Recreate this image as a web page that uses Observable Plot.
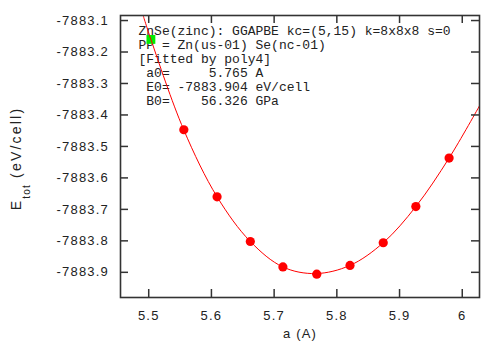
<!DOCTYPE html>
<html>
<head>
<meta charset="utf-8">
<script src="https://cdn.jsdelivr.net/npm/d3@7"></script>
<script src="https://cdn.jsdelivr.net/npm/@observablehq/plot@0.6"></script>
<style>
  html, body { margin: 0; padding: 0; background: #fff; }
  svg text { white-space: pre; }
  g[aria-label="x-axis tick label"], g[aria-label="y-axis tick label"], g.xlab { letter-spacing: 1.2px; }
  g.ylab { letter-spacing: 2.2px; }
</style>
</head>
<body>
<div id="chart"></div>
<script>
// measured data points (lattice constant a in Å, total energy in eV/cell)
const aVals = [5.556, 5.609, 5.662, 5.714, 5.768, 5.821, 5.874, 5.926, 5.979];
const eVals = [-7883.447, -7883.660, -7883.802, -7883.883, -7883.906, -7883.878, -7883.806, -7883.691, -7883.537];
// highlighted (first) point
const greenA = [5.5035];
const greenE = [-7883.160];
// fitted poly4 curve
const fitA = [5.4911, 5.5035, 5.5558, 5.609, 5.662, 5.714, 5.766, 5.821, 5.874, 5.926, 5.979, 6.0275];
const fitE = [-7883.084, -7883.160, -7883.447, -7883.660, -7883.802, -7883.883, -7883.904, -7883.878, -7883.806, -7883.691, -7883.537, -7883.371];
// tick labels
const xTicks = [5.5, 5.6, 5.7, 5.8, 5.9, 6.0];
const yTicks = [-7883.9, -7883.8, -7883.7, -7883.6, -7883.5, -7883.4, -7883.3, -7883.2, -7883.1];
// annotation
const infoLines = [
  "ZnSe(zinc): GGAPBE kc=(5,15) k=8x8x8 s=0",
  "PP = Zn(us-01) Se(nc-01)",
  "[Fitted by poly4]",
  " a0=     5.765 A",
  " E0= -7883.904 eV/cell",
  " B0=    56.326 GPa"
];
const xLabel = "a (A)";
const yLabel = "Etot (eV/cell)";

const W = 500, H = 355;
const mL = 120, mR = 21, mT = 15, mB = 58;
const pw = W - mL - mR, ph = H - mT - mB;

const pts = aVals.map((a, i) => ({a, e: eVals[i]}));
const green = greenA.map((a, i) => ({a, e: greenE[i]}));
const fit = fitA.map((a, i) => ({a, e: fitE[i]}));
const ink = "#333";

const chart = Plot.plot({
  width: W, height: H,
  marginLeft: mL, marginRight: mR, marginTop: mT, marginBottom: mB,
  style: {fontFamily: "'Liberation Sans', Arial, sans-serif", fontSize: "13px", color: "#222", background: "#fff"},
  x: {domain: [5.455, 6.0275]},
  y: {domain: [-7883.98, -7883.084]},
  marks: [
    Plot.text([infoLines.join("\n")], {
      frameAnchor: "top-left", dx: 18, dy: 10, lineAnchor: "top", textAnchor: "start",
      lineHeight: 14 / 13, fontFamily: "'Liberation Mono', 'Courier New', monospace",
      fontSize: 13, fill: "#222"
    }),
    Plot.dot(green, {x: "a", y: "e", symbol: "square", r: 5, fill: "#00ee00", stroke: "none"}),
    Plot.line(fit, {x: "a", y: "e", curve: "catmull-rom", stroke: "#ff0000", strokeWidth: 1, clip: true}),
    Plot.dot(pts, {x: "a", y: "e", r: 4.6, fill: "#ff0000", stroke: "none"}),
    Plot.frame({stroke: ink, strokeWidth: 1.6}),
    Plot.tickY(yTicks, {y: d => d, insetRight: pw - 8, stroke: ink, strokeWidth: 1.5}),
    Plot.tickY(yTicks, {y: d => d, insetLeft: pw - 8, stroke: ink, strokeWidth: 1.5}),
    Plot.tickX(xTicks, {x: d => d, insetTop: ph - 8, stroke: ink, strokeWidth: 1.5}),
    Plot.tickX(xTicks, {x: d => d, insetBottom: ph - 8, stroke: ink, strokeWidth: 1.5}),
    Plot.axisY(yTicks, {anchor: "left", tickSize: 0, tickPadding: 11.5, label: null, tickFormat: d => d.toFixed(1), fill: "#222"}),
    Plot.axisX(xTicks, {anchor: "bottom", tickSize: 0, tickPadding: 13.5, label: null, tickFormat: d => String(+d.toFixed(2)), fill: "#222"}),
    Plot.text([xLabel], {frameAnchor: "bottom", dy: 36, lineAnchor: "middle", fill: "#222", className: "xlab"}),
    Plot.text([yLabel], {frameAnchor: "left", dx: -104, dy: 2, rotate: -90, lineAnchor: "middle", textAnchor: "middle", fontSize: 14, fill: "#222", className: "ylab"})
  ]
});

// subscript for E_tot
const yl = chart.querySelector("g.ylab text");
if (yl) {
  yl.textContent = "";
  yl.setAttribute("text-anchor", "middle");
  const ns = "http://www.w3.org/2000/svg";
  const t1 = document.createElementNS(ns, "tspan"); t1.textContent = "E";
  const t2 = document.createElementNS(ns, "tspan"); t2.textContent = "tot";
  t2.setAttribute("font-size", "10"); t2.setAttribute("dy", "9"); t2.setAttribute("letter-spacing", "1.2px");
  const t3 = document.createElementNS(ns, "tspan"); t3.textContent = " (eV/cell)";
  t3.setAttribute("dy", "-9");
  yl.append(t1, t2, t3);
}
document.getElementById("chart").append(chart);
</script>
</body>
</html>
